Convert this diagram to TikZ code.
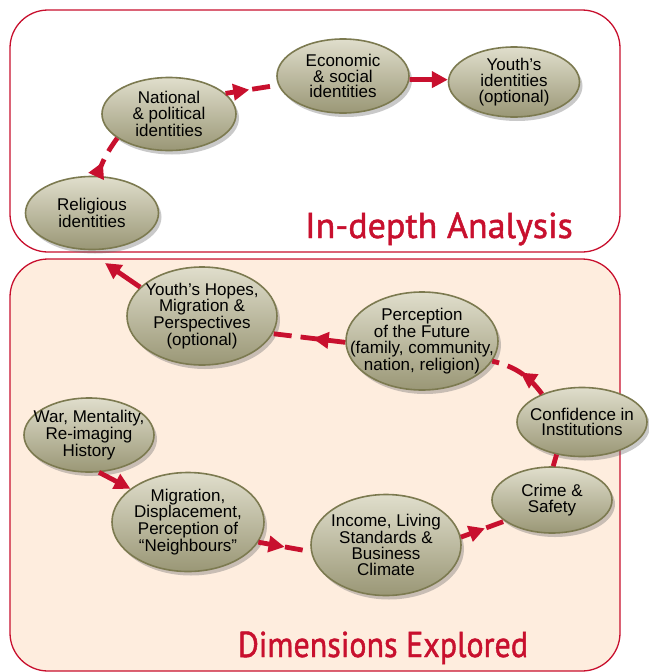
\documentclass[tikz,border=0pt]{standalone}
\usepackage{fontspec}
\setmainfont{Liberation Sans}
\newfontfamily\titlefont[FakeBold=1.3]{PT Sans}
\usetikzlibrary{shapes.geometric,shadows,arrows.meta,decorations.markings}
\definecolor{crim}{RGB}{200,16,46}
\definecolor{peach}{RGB}{254,237,222}
\definecolor{bubtop}{RGB}{224,222,204}
\definecolor{bubbot}{RGB}{154,151,118}
\definecolor{bubline}{RGB}{124,122,80}
\tikzset{bubble/.style={ellipse, draw=bubline, line width=1.6pt, top color=bubtop, bottom color=bubbot,
		drop shadow={shadow xshift=3pt, shadow yshift=-4pt, opacity=.35, fill=black!60}, inner sep=0pt},
	bsize/.style 2 args={minimum width=#1pt, minimum height=#2pt},
	lbl/.style={align=center, font=\fontsize{17}{15.8}\selectfont, inner sep=0pt, text=black},
	link/.style={draw=crim, line width=4.8pt, dash pattern=on 18pt off 9pt},
	tipat/.style={postaction={decorate}, decoration={markings,
			mark=at position #1 with {\arrow{Triangle[length=16pt,width=16pt]}}}},
	tipend/.style={solid, -{Triangle[length=16pt,width=16pt]}},
	frame/.style={draw=crim, line width=1.3pt, rounded corners=38pt},
	ttl/.style={text=crim, font=\titlefont\fontsize{36}{36}\selectfont, anchor=base}}
\begin{document}
\begin{tikzpicture}[x=1pt, y=1pt]
	\useasboundingbox (0,0) rectangle (648,-672);
	\draw[frame, fill=white] (10,-10) rectangle (620,-252);
	\draw[frame, fill=peach] (10,-259) rectangle (620,-671);
	\node[ttl] (analysis) at (439,-238) {In-depth Analysis};
	\node[ttl] (explored) at (383,-657) {\scalebox{0.89}[1]{Dimensions Explored}};

	\node[bubble, bsize={133}{73}, label={[lbl]center:{Religious\\identities}}] (rel) at (92,-213) {};
	\node[bubble, bsize={134}{73}, label={[lbl]center:{National\\\& political\\identities}}] (nat) at (169,-114) {};
	\node[bubble, bsize={132}{74}, label={[lbl]center:{Economic\\\& social\\identities}}] (eco) at (343,-76) {};
	\node[bubble, bsize={131}{70}, label={[lbl]center:{Youth’s\\identities\\(optional)}}] (you) at (514,-82) {};

	\node[bubble, bsize={150}{98}, label={[lbl]center:{Youth’s Hopes,\\Migration \&\\Perspectives\\(optional)}}] (hopes) at (202,-316) {};
	\node[bubble, bsize={152}{98}, label={[lbl]center:{Perception\\of the Future\\(family, community,\\nation, religion)}}] (fut) at (422,-341) {};
	\node[bubble, bsize={130}{74}, label={[lbl]center:{War, Mentality,\\Re-imaging\\History}}] (war) at (89,-435) {};
	\node[bubble, bsize={152}{99}, label={[lbl]center:{Migration,\\Displacement,\\Perception of\\“Neighbours”}}] (mig) at (188,-522) {};
	\node[bubble, bsize={150}{101}, label={[lbl]center:{Income, Living\\Standards \&\\Business\\Climate}}] (inc) at (386,-545) {};
	\node[bubble, bsize={120}{66}, label={[lbl]center:{Crime \&\\Safety}}] (crime) at (552,-500) {};
	\node[bubble, bsize={130}{69}, label={[lbl]center:{Confidence in\\Institutions}}] (conf) at (582,-422) {};
	\coordinate (up) at (105,-263);

	\draw[link, tipat=0.35] (rel.82) to[bend left=8] (nat.205);
	\draw[link, tipat=0.45] (nat.20) -- (eco.188);
	\draw[link, tipend] (eco.357) -- (you.178);
	\draw[link, tipend] (hopes.155) -- (up);
	\draw[link, tipat=0.45] (fut.181) -- (hopes.346);
	\draw[link, tipat=0.5] (conf.145) to[bend right=20] (fut.344);
	\draw[link, solid] (crime.88) -- (conf.232);
	\draw[link, tipat=0.55] (inc.6) -- (crime.204);
	\draw[link, tipat=0.5] (mig.344) -- (inc.185);
	\draw[link, tipend] (war.285) -- (mig.150);
\end{tikzpicture}
\end{document}
